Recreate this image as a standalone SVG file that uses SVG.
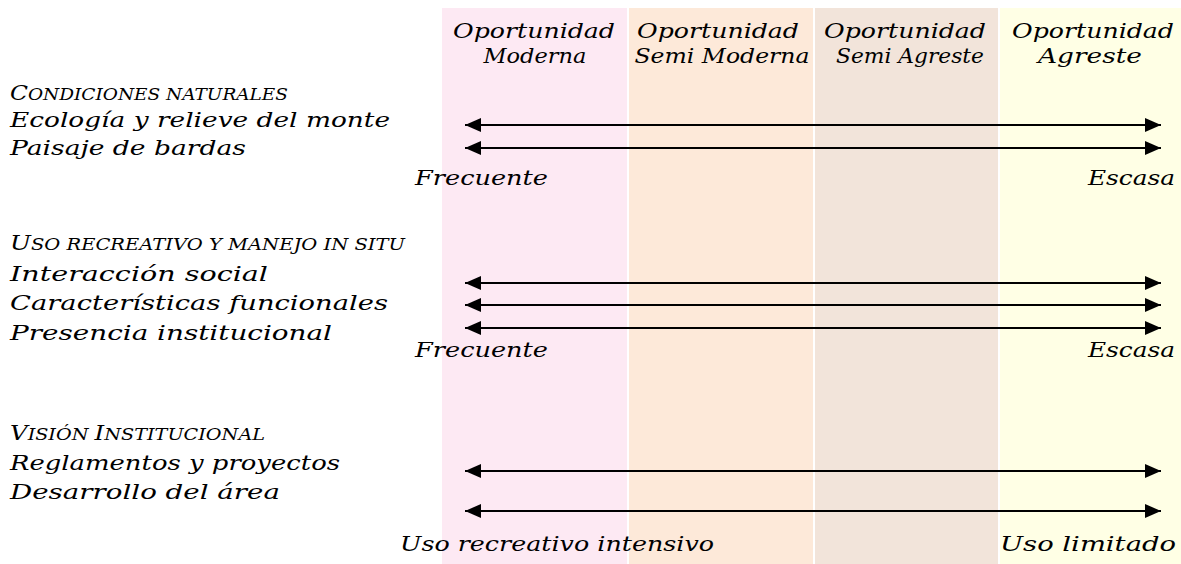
<svg xmlns="http://www.w3.org/2000/svg" width="1181" height="564" viewBox="0 0 1181 564">
<style>
  text { font-family: "DejaVu Serif", "Liberation Serif", serif; font-style: italic; font-size: 21px; fill: #000; }
  .hd { text-anchor: middle; }
  .sc { font-size: 16.5px; }
  .arrow { stroke: #000; stroke-width: 2; fill: none; marker-start: url(#ah); marker-end: url(#ah); }
</style>
<defs>
  <marker id="ah" markerUnits="userSpaceOnUse" markerWidth="17" markerHeight="15" refX="16" refY="7" orient="auto-start-reverse" viewBox="0 0 17 15">
    <path d="M0,0 L16,7 L0,14 z" fill="#000"/>
  </marker>
</defs>
<rect width="1181" height="564" fill="#fff"/>
<g id="columns">
  <rect x="442" y="8" width="185" height="556" fill="#FDE9F3"/>
  <rect x="629" y="8" width="184" height="556" fill="#FDE9D9"/>
  <rect x="815" y="8" width="183" height="556" fill="#F2E4DA"/>
  <rect x="1000" y="8" width="181" height="556" fill="#FFFFE5"/>
</g>
<g id="col-moderna">
  <text class="hd" x="534" y="38" textLength="162" lengthAdjust="spacingAndGlyphs">Oportunidad</text>
  <text class="hd" x="535" y="63" textLength="103" lengthAdjust="spacingAndGlyphs">Moderna</text>
</g>
<g id="col-semimoderna">
  <text class="hd" x="718" y="38" textLength="162" lengthAdjust="spacingAndGlyphs">Oportunidad</text>
  <text class="hd" x="722" y="63" textLength="175" lengthAdjust="spacingAndGlyphs">Semi Moderna</text>
</g>
<g id="col-semiagreste">
  <text class="hd" x="905" y="38" textLength="162" lengthAdjust="spacingAndGlyphs">Oportunidad</text>
  <text class="hd" x="910" y="63" textLength="148" lengthAdjust="spacingAndGlyphs">Semi Agreste</text>
</g>
<g id="col-agreste">
  <text class="hd" x="1093" y="38" textLength="162" lengthAdjust="spacingAndGlyphs">Oportunidad</text>
  <text class="hd" x="1090" y="63" textLength="104" lengthAdjust="spacingAndGlyphs">Agreste</text>
</g>
<g id="sec-condiciones">
  <text x="10" y="100" textLength="278" lengthAdjust="spacingAndGlyphs">C<tspan class="sc">ONDICIONES NATURALES</tspan></text>
  <text x="10" y="127" textLength="380" lengthAdjust="spacingAndGlyphs">Ecología y relieve del monte</text>
  <text x="10" y="155" textLength="236" lengthAdjust="spacingAndGlyphs">Paisaje de bardas</text>
  <text x="415" y="185" textLength="133" lengthAdjust="spacingAndGlyphs">Frecuente</text>
  <text x="1088" y="185" textLength="87" lengthAdjust="spacingAndGlyphs">Escasa</text>
</g>
<g id="sec-uso">
  <text x="10" y="250" textLength="395" lengthAdjust="spacingAndGlyphs">U<tspan class="sc">SO RECREATIVO Y MANEJO IN SITU</tspan></text>
  <text x="10" y="281" textLength="258" lengthAdjust="spacingAndGlyphs">Interacción social</text>
  <text x="10" y="310" textLength="378" lengthAdjust="spacingAndGlyphs">Características funcionales</text>
  <text x="10" y="340" textLength="322" lengthAdjust="spacingAndGlyphs">Presencia institucional</text>
  <text x="415" y="357" textLength="133" lengthAdjust="spacingAndGlyphs">Frecuente</text>
  <text x="1088" y="357" textLength="87" lengthAdjust="spacingAndGlyphs">Escasa</text>
</g>
<g id="sec-vision">
  <text x="10" y="440" textLength="255" lengthAdjust="spacingAndGlyphs">V<tspan class="sc">ISIÓN </tspan>I<tspan class="sc">NSTITUCIONAL</tspan></text>
  <text x="10" y="470" textLength="330" lengthAdjust="spacingAndGlyphs">Reglamentos y proyectos</text>
  <text x="10" y="499" textLength="270" lengthAdjust="spacingAndGlyphs">Desarrollo del área</text>
  <text x="400" y="551" textLength="314" lengthAdjust="spacingAndGlyphs">Uso recreativo intensivo</text>
  <text x="1000" y="551" textLength="176" lengthAdjust="spacingAndGlyphs">Uso limitado</text>
</g>
<g id="connectors">
  <line class="arrow" x1="465" y1="125" x2="1161" y2="125"/>
  <line class="arrow" x1="465" y1="148" x2="1161" y2="148"/>
  <line class="arrow" x1="465" y1="283" x2="1161" y2="283"/>
  <line class="arrow" x1="465" y1="305" x2="1161" y2="305"/>
  <line class="arrow" x1="465" y1="328" x2="1161" y2="328"/>
  <line class="arrow" x1="465" y1="471" x2="1161" y2="471"/>
  <line class="arrow" x1="465" y1="511" x2="1161" y2="511"/>
</g>
</svg>
